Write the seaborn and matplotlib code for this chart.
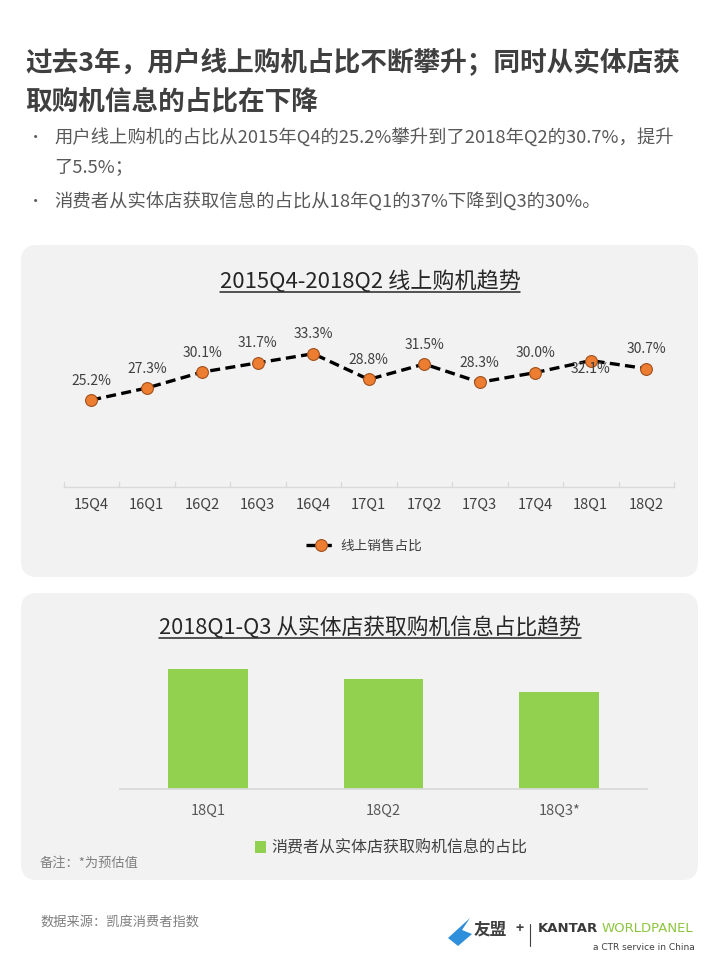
import numpy as np
import pandas as pd
import seaborn as sns
import matplotlib.pyplot as plt
from matplotlib.patches import FancyBboxPatch, Rectangle, Polygon
from matplotlib.lines import Line2D
from matplotlib.transforms import IdentityTransform

# --- data ---
quarters = ['15Q4', '16Q1', '16Q2', '16Q3', '16Q4', '17Q1', '17Q2', '17Q3', '17Q4', '18Q1', '18Q2']
online_share = [25.2, 27.3, 30.1, 31.7, 33.3, 28.8, 31.5, 28.3, 30.0, 32.1, 30.7]
store_quarters = ['18Q1', '18Q2', '18Q3*']
store_share = [37, 34, 30]

sns.set_theme(style='white')
plt.rcParams['font.family'] = ['Noto Sans CJK SC', 'DejaVu Sans']

W, H = 720, 960
fig = plt.figure(figsize=(7.2, 9.6), dpi=100)
fig.patch.set_facecolor('white')


def fx(px):
    return px / W


def fy(py):
    return 1 - py / H


def panel(x0, y0, x1, y1):
    # rounded grey card, given in top-left pixel coords
    p = FancyBboxPatch((x0, H - y1), x1 - x0, y1 - y0,
                       boxstyle='round,pad=0,rounding_size=16',
                       transform=IdentityTransform(), facecolor='#F2F2F2',
                       edgecolor='none', zorder=-10)
    fig.patches.append(p)


panel(21, 245, 698, 577)
panel(21, 593, 698, 880)

# --- header ---
dark = '#3F3F3F'
fig.text(fx(25), fy(63), '过去3年，用户线上购机占比不断攀升；同时从实体店获',
         fontsize=19.2, fontweight='bold', color=dark, va='center')
fig.text(fx(25), fy(102), '取购机信息的占比在下降',
         fontsize=19.2, fontweight='bold', color=dark, va='center')
body = '#595959'
fig.text(fx(28), fy(138), '•', fontsize=11, color=body, va='center')
fig.text(fx(54), fy(138), '用户线上购机的占比从2015年Q4的25.2%攀升到了2018年Q2的30.7%，提升',
         fontsize=13.2, color=body, va='center')
fig.text(fx(54), fy(168), '了5.5%；', fontsize=13.2, color=body, va='center')
fig.text(fx(28), fy(202), '•', fontsize=11, color=body, va='center')
fig.text(fx(54), fy(202), '消费者从实体店获取信息的占比从18年Q1的37%下降到Q3的30%。',
         fontsize=13.2, color=body, va='center')

# --- line chart: online share ---
ymin, ymax = 10, 42.6
ax1 = fig.add_axes([fx(63.5), fy(487), fx(674) - fx(63.5), (ymax - ymin) * 5.72 / H])
ax1.set_facecolor('none')
df_line = pd.DataFrame({'quarter': quarters, 'share': online_share})
sns.lineplot(data=df_line, x='quarter', y='share', ax=ax1, color='black',
             linestyle=(0, (3, 1.6)), linewidth=2.4, marker='o', markersize=8.5,
             markerfacecolor='#ED7D31', markeredgecolor='#A0501C', markeredgewidth=0.8,
             sort=False, legend=False)
ax1.set_xlim(-0.5, len(quarters) - 0.5)
ax1.set_ylim(ymin, ymax)
for i, v in enumerate(online_share):
    if quarters[i] == '18Q1':
        ax1.annotate(f'{v:.1f}%', (i, v), xytext=(0, -6), textcoords='offset points',
                     ha='center', va='center', fontsize=10, color='#404040')
    else:
        ax1.annotate(f'{v:.1f}%', (i, v), xytext=(0, 14), textcoords='offset points',
                     ha='center', va='center', fontsize=10, color='#404040')
ax1.set_yticks([])
ax1.set_xlabel('')
ax1.set_ylabel('')
for s in ['top', 'right', 'left']:
    ax1.spines[s].set_visible(False)
ax1.spines['bottom'].set_color('#D9D9D9')
ax1.spines['bottom'].set_linewidth(1)
ax1.set_xticks(range(len(quarters)))
ax1.set_xticklabels(quarters, fontsize=10.5, color='#404040')
ax1.tick_params(axis='x', length=0, pad=8)
for b in np.arange(-0.5, len(quarters), 1.0):
    ax1.plot([b, b], [ymin, ymin + 0.9], color='#D9D9D9', lw=1, clip_on=False)

handles1 = [Line2D([], [], color='black', linestyle=(0, (3, 1.6)), linewidth=2.4, marker='o',
                   markersize=8.5, markerfacecolor='#ED7D31', markeredgecolor='#A0501C',
                   markeredgewidth=0.8)]
fig.legend(handles1, ['线上销售占比'], loc='center', bbox_to_anchor=(fx(364), fy(546)),
           frameon=False, fontsize=9.8, handlelength=2.2, handletextpad=0.3,
           labelcolor='#404040')

# --- bar chart: in-store info share ---
ax2 = fig.add_axes([fx(120), fy(789), fx(647) - fx(120), 45 * 3.243 / H])
ax2.set_facecolor('none')
df_bar = pd.DataFrame({'quarter': store_quarters, 'share': store_share})
sns.barplot(data=df_bar, x='quarter', y='share', ax=ax2, color='#92D050',
            saturation=1, width=0.455, edgecolor='none', linewidth=0)
ax2.set_xlim(-0.5, 2.5)
ax2.set_ylim(0, 45)
ax2.set_yticks([])
ax2.set_xlabel('')
ax2.set_ylabel('')
for s in ['top', 'right', 'left']:
    ax2.spines[s].set_visible(False)
ax2.spines['bottom'].set_color('#D9D9D9')
ax2.tick_params(axis='x', length=0, pad=11, labelsize=10.5, labelcolor='#595959')

handles2 = [Rectangle((0, 0), 1, 1, facecolor='#92D050', edgecolor='none')]
fig.legend(handles2, ['消费者从实体店获取购机信息的占比'], loc='center',
           bbox_to_anchor=(fx(391), fy(848)), frameon=False, fontsize=11.5,
           handlelength=0.7, handleheight=0.7, handletextpad=0.3, labelcolor='#404040')

# --- underlined chart titles ---
t1 = fig.text(fx(370), fy(282), '2015Q4-2018Q2 线上购机趋势', fontsize=15.9,
              color='#262626', ha='center', va='center')
t2 = fig.text(fx(370), fy(628), '2018Q1-Q3 从实体店获取购机信息占比趋势', fontsize=15.7,
              color='#262626', ha='center', va='center')
renderer = fig.canvas.get_renderer()
for t, uy in [(t1, 292), (t2, 638)]:
    bb = t.get_window_extent(renderer=renderer)
    fig.add_artist(Line2D([bb.x0 / W, bb.x1 / W], [fy(uy), fy(uy)],
                          transform=fig.transFigure, color='#262626', lw=1.1))

# --- notes and footer ---
fig.text(fx(40), fy(863), '备注：*为预估值', fontsize=9.5, color='#7F7F7F', va='center')
fig.text(fx(40), fy(922), '数据来源：凯度消费者指数', fontsize=9.5, color='#7F7F7F', va='center')

bird = Polygon([[448, H - 938], [470, H - 918], [462, H - 930], [472, H - 934], [458, H - 946]],
               closed=True, transform=IdentityTransform(), facecolor='#2F8FDB', edgecolor='none')
fig.patches.append(bird)
fig.text(fx(474), fy(930), '友盟', fontsize=12, fontweight='bold', color='#404040',
         va='center', style='italic')
fig.text(fx(516), fy(929), '+', fontsize=10, fontweight='bold', color='#404040', va='center')
fig.add_artist(Line2D([fx(530), fx(530)], [fy(924), fy(946)], transform=fig.transFigure,
                      color='#404040', lw=0.8))
fig.text(fx(538), fy(929), 'KANTAR', fontsize=9.5, fontweight='bold', color='#3A3A3A',
         va='center', family=['DejaVu Sans'])
fig.text(fx(602), fy(929), 'WORLDPANEL', fontsize=9.5, color='#8CC63F',
         va='center', family=['DejaVu Sans'])
fig.text(fx(695), fy(948), 'a CTR service in China', fontsize=6.5, color='#404040',
         va='center', ha='right', family=['DejaVu Sans'])

fig.savefig('out.png', dpi=100, facecolor='white')
